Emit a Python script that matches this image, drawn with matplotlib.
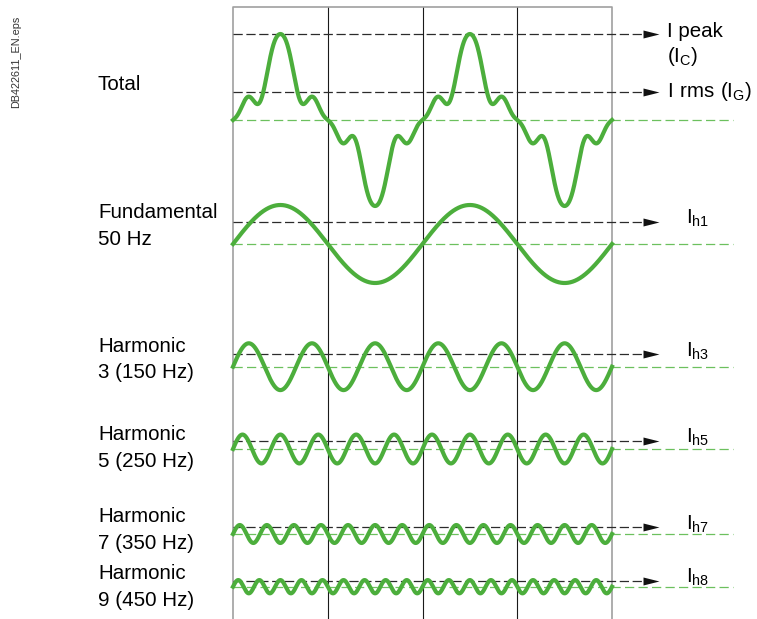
import numpy as np
import matplotlib
matplotlib.use('Agg')
import matplotlib.pyplot as plt
from matplotlib.path import Path

plt.rcParams['font.family'] = ['Liberation Sans', 'DejaVu Sans']
plt.rcParams['mathtext.default'] = 'regular'

# harmonic components, amplitudes relative to the fundamental
orders = [1, 3, 5, 7, 9]
amplitudes = [1.0, 0.60, 0.37, 0.23, 0.17]
rms_marks = [0.56, 0.32, 0.21, 0.17, 0.15]
row_titles = [['Fundamental', '50 Hz'],
              ['Harmonic', '3 (150 Hz)'],
              ['Harmonic', '5 (250 Hz)'],
              ['Harmonic', '7 (350 Hz)'],
              ['Harmonic', '9 (450 Hz)']]
rms_labels = ['$I_{h1}$', '$I_{h3}$', '$I_{h5}$', '$I_{h7}$', '$I_{h8}$']

# distorted total current, sine coefficients for the same orders
total_coeffs = [1.435, -0.437, 0.374, -0.061, -0.102]
total_peak = 2.20
total_rms = 0.73

f0 = 50.0          # Hz
window_ms = 40.0   # two cycles

# layout (figure pixels)
W, H = 757, 619
BOX_L, BOX_R, BOX_TOP = 233, 612, 7
UNIT = 39.0
total_base = 120
row_base = [244, 366.7, 449, 534, 586.7]
title_y = [[218, 245], [352, 378], [440, 467], [522, 549], [579, 606]]
px_ms = (BOX_R - BOX_L) / window_ms

GREEN = '#4cae3c'
LGREEN = '#6cc05e'
DARK = '#2b2b2b'
FS = 14.8


def ms(px):
    return (px - BOX_L) / px_ms


fig = plt.figure(figsize=(W / 100, H / 100), dpi=100)
ax = fig.add_axes([0, 0, 1, 1])
ax.set_xlim(ms(0), ms(W))
ax.set_ylim(H, 0)
ax.axis('off')

# frame and half-cycle lines
for tv in [10, 20, 30]:
    ax.plot([tv, tv], [BOX_TOP, H], color='#1a1a1a', lw=0.8, zorder=1)
ax.plot([0, 0, window_ms, window_ms], [H, BOX_TOP, BOX_TOP, H],
        color='#a0a0a0', lw=1.2, zorder=1)

tri = Path([(-1, -0.5), (1, 0), (-1, 0.5), (-1, -0.5)],
           [Path.MOVETO, Path.LINETO, Path.LINETO, Path.CLOSEPOLY])


def level(y):
    ax.plot([0, ms(644)], [y, y], color=DARK, lw=0.9,
            linestyle=(0, (7.4, 2.9)), zorder=2)
    ax.plot([ms(651)], [y], marker=tri, markersize=11.5, color='#111111',
            markeredgewidth=0, zorder=2)


def zero(y):
    ax.plot([0, ms(733)], [y, y], color=LGREEN, lw=0.9,
            linestyle=(0, (7.4, 3.4)), zorder=2)


t = np.linspace(0, window_ms, 4000)
theta = 2 * np.pi * f0 * t / 1000.0

# total
total = sum(c * np.sin(k * theta) for k, c in zip(orders, total_coeffs))
zero(total_base)
level(total_base - UNIT * total_peak)
level(total_base - UNIT * total_rms)
ax.plot(t, total_base - UNIT * total, color=GREEN, lw=3, zorder=3)
ax.text(ms(98), 90, 'Total', fontsize=FS, va='baseline', ha='left')
ax.text(ms(667), 37, 'I peak', fontsize=FS, va='baseline', ha='left')
ax.text(ms(667), 62, '$(I_C)$', fontsize=FS, va='baseline', ha='left')
ax.text(ms(667), 97, '$I\\ rms\\ (I_G)$', fontsize=FS, va='baseline', ha='left')

# components
for i, k in enumerate(orders):
    base = row_base[i]
    zero(base)
    y_rms = base - UNIT * rms_marks[i]
    level(y_rms)
    ax.plot(t, base - UNIT * amplitudes[i] * np.sin(k * theta),
            color=GREEN, lw=3, zorder=3)
    for line, yy in zip(row_titles[i], title_y[i]):
        ax.text(ms(98), yy, line, fontsize=FS, va='baseline', ha='left')
    ax.text(ms(686), y_rms + 2, rms_labels[i], fontsize=FS,
            va='baseline', ha='left')

fig.text(16.5 / W, 1 - 61.5 / H, 'DB422611_EN.eps', rotation=90,
         fontsize=7.8, color='#333333', ha='center', va='center')

fig.savefig('out.png', dpi=100)
